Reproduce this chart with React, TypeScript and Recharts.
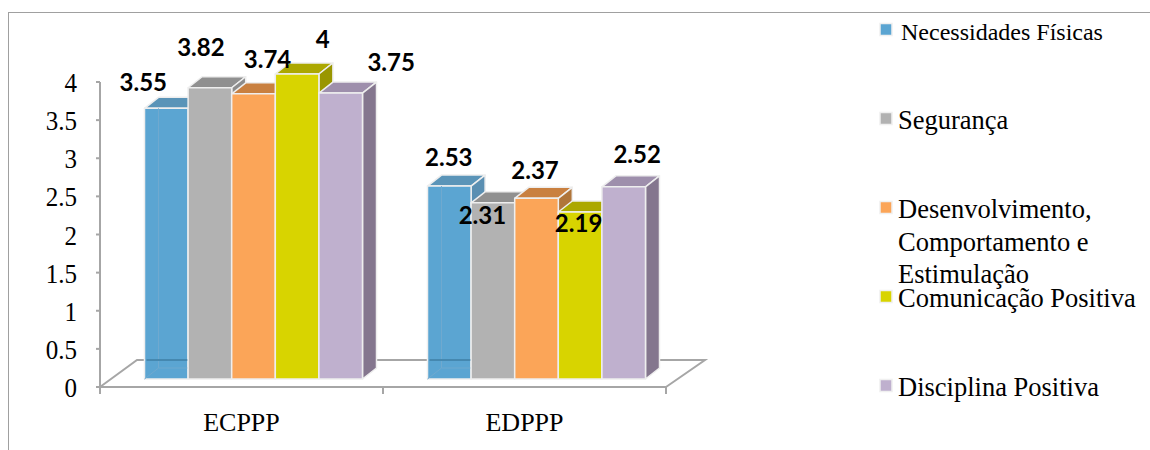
import { Bar, BarChart, LabelList, XAxis, YAxis } from "recharts";

const categories = ["ECPPP", "EDPPP"];
const necessidades = [3.55, 2.53];
const seguranca = [3.82, 2.31];
const desenvolvimento = [3.74, 2.37];
const comunicacao = [4, 2.19];
const disciplina = [3.75, 2.52];
const yTicks = [0, 0.5, 1, 1.5, 2, 2.5, 3, 3.5, 4];

const legendLines = [
  ["Necessidades Físicas"],
  ["Segurança"],
  ["Desenvolvimento,", "Comportamento e", "Estimulação"],
  ["Comunicação Positiva"],
  ["Disciplina Positiva"],
];

const SERIF = "'Liberation Serif', serif";
const AXIS_GREY = "#a6a6a6";

// fake 3d: bars are pushed off the axis onto the floor
const SHIFT_X = 11.5;
const SHIFT_Y = -8;
const DEPTH_X = 14;
const DEPTH_Y = -11;

const PLOT = { left: 100, right: 666, top: 82, bottom: 387 };

type SeriesStyle = {
  key: string;
  values: number[];
  front: string;
  top: string;
  side: string;
  labelOffsets: [number, number][];
};

const seriesList: SeriesStyle[] = [
  {
    key: "necessidades",
    values: necessidades,
    front: "#5ba5d2",
    top: "#5a94b8",
    side: "#5a8fb2",
    labelOffsets: [[-23, -26], [-0.5, -28]],
  },
  {
    key: "seguranca",
    values: seguranca,
    front: "#b2b2b2",
    top: "#909090",
    side: "#8c8c8c",
    labelOffsets: [[-9, -40], [-10.5, 13]],
  },
  {
    key: "desenvolvimento",
    values: desenvolvimento,
    front: "#fba558",
    top: "#c98040",
    side: "#b0753a",
    labelOffsets: [[14, -34], [-1.5, -28]],
  },
  {
    key: "comunicacao",
    values: comunicacao,
    front: "#d8d400",
    top: "#aca800",
    side: "#999600",
    labelOffsets: [[25.5, -34], [-1.5, 12]],
  },
  {
    key: "disciplina",
    values: disciplina,
    front: "#bfb0ce",
    top: "#9e8fac",
    side: "#84768e",
    labelOffsets: [[50.5, -30], [13.5, -32]],
  },
];

const chartData = categories.map((name, i) => {
  const row: Record<string, string | number> = { name };
  seriesList.forEach((s) => {
    row[s.key] = s.values[i];
  });
  return row;
});

function Column3D(props: any, style: SeriesStyle) {
  const x = props.x + SHIFT_X;
  const y = props.y + SHIFT_Y;
  const w = props.width;
  const h = props.height;
  const edge = { stroke: "#eeeeee", strokeWidth: 1.5, strokeLinejoin: "round" as const };
  const seeThrough = style.key === "necessidades";

  return (
    <g>
      <polygon
        points={`${x},${y} ${x + DEPTH_X},${y + DEPTH_Y} ${x + w + DEPTH_X},${y + DEPTH_Y} ${x + w},${y}`}
        fill={style.top}
        {...edge}
      />
      <polygon
        points={`${x + w},${y} ${x + w + DEPTH_X},${y + DEPTH_Y} ${x + w + DEPTH_X},${y + h + DEPTH_Y} ${x + w},${y + h}`}
        fill={style.side}
        {...edge}
      />
      <rect x={x} y={y} width={w} height={h} fill={style.front} {...edge} />
      {seeThrough && (
        <g fill="none">
          <path
            d={`M${x + DEPTH_X},${y} V${y + h + DEPTH_Y} H${x + w} M${x},${y + h} L${x + DEPTH_X},${y + h + DEPTH_Y}`}
            stroke="#6fa9cf"
            strokeWidth={1}
          />
          <line
            x1={x + 2}
            x2={x + w}
            y1={y + h - 19}
            y2={y + h - 19}
            stroke="#4588b0"
            strokeWidth={2}
          />
        </g>
      )}
    </g>
  );
}

function ValueLabel(props: any, style: SeriesStyle) {
  const { x, y, width, value, index } = props;
  const [dx, dy] = style.labelOffsets[index];
  return (
    <text
      x={x + SHIFT_X + width / 2 + dx}
      y={y + SHIFT_Y + dy}
      dy="0.35em"
      textAnchor="middle"
      fontFamily="Lato, sans-serif"
      fontWeight={700}
      fontSize={24}
      fill="#000"
    >
      {value}
    </text>
  );
}

function CategoryTick(props: any) {
  const { x, payload, index } = props;
  const band = (PLOT.right - PLOT.left) / categories.length;
  const edges = index === categories.length - 1 ? [x - band / 2, x + band / 2] : [x - band / 2];
  return (
    <g>
      {edges.map((ex) => (
        <line key={ex} x1={ex} x2={ex} y1={PLOT.bottom} y2={PLOT.bottom + 7} stroke={AXIS_GREY} strokeWidth={2} />
      ))}
      <text x={x} y={PLOT.bottom + 44} textAnchor="middle" fontFamily={SERIF} fontSize={26} fill="#000">
        {payload.value}
      </text>
    </g>
  );
}

function ValueTick(props: any) {
  const { y, payload } = props;
  // the source picture is a little stretched, so the digits are narrow and tall
  return (
    <text
      transform={`translate(77,${y + 10}) scale(0.91,1)`}
      textAnchor="end"
      fontFamily={SERIF}
      fontSize={27.5}
      fill="#000"
    >
      {payload.value}
    </text>
  );
}

function SideLegend() {
  const rowGap = 89;
  return (
    <svg width={275} height={420} style={{ position: "absolute", left: 875, top: 0 }}>
      {legendLines.map((lines, i) => (
        <g key={lines[0]}>
          <rect
            x={5}
            y={23.5 + i * rowGap}
            width={12}
            height={12}
            fill={seriesList[i].front}
            stroke="#f0f0f0"
            strokeWidth={1.5}
          />
          {lines.map((line, j) => (
            <text
              key={line}
              x={i === 0 ? 26 : 23}
              y={40 + i * rowGap + j * 32.5}
              fontFamily={SERIF}
              fontSize={i === 0 ? 24 : 26.5}
              fill="#000"
            >
              {line}
            </text>
          ))}
        </g>
      ))}
    </svg>
  );
}

export default function App() {
  return (
    <div
      style={{
        position: "absolute",
        left: 0,
        top: 0,
        width: 1150,
        height: 450,
        overflow: "hidden",
        background: "#fff",
      }}
    >
      <div
        style={{
          position: "absolute",
          left: 8,
          top: 12,
          right: 0,
          bottom: 0,
          borderLeft: "1.5px solid #a0a0a0",
          borderTop: "1.5px solid #a0a0a0",
        }}
      />
      {/* floor of the 3d plot, sits behind the chart */}
      <svg width={1150} height={450} style={{ position: "absolute", left: 0, top: 0 }}>
        <polyline
          points={`${PLOT.left},${PLOT.bottom} ${PLOT.left + 37},360 ${PLOT.right + 39},360 ${PLOT.right},${PLOT.bottom}`}
          fill="none"
          stroke={AXIS_GREY}
          strokeWidth={2}
        />
      </svg>
      <div style={{ position: "absolute", left: 0, top: 0 }}>
        <BarChart
          width={1150}
          height={450}
          data={chartData}
          barSize={43.6}
          barGap={0}
          margin={{ top: PLOT.top, left: 30, right: 1150 - PLOT.right, bottom: 18 }}
        >
          <XAxis
            dataKey="name"
            height={45}
            axisLine={{ stroke: AXIS_GREY, strokeWidth: 2 }}
            tickLine={false}
            tick={CategoryTick}
            interval={0}
          />
          {/* second axis keeps the label bars out of the column grouping */}
          <XAxis xAxisId="labels" dataKey="name" hide />
          <YAxis
            width={70}
            domain={[0, 4]}
            ticks={yTicks}
            interval={0}
            axisLine={{ stroke: AXIS_GREY, strokeWidth: 2 }}
            tickLine={{ stroke: AXIS_GREY, strokeWidth: 2 }}
            tickSize={4}
            tick={ValueTick}
          />
          {seriesList.map((s) => (
            <Bar
              key={s.key}
              dataKey={s.key}
              isAnimationActive={false}
              shape={(p: any) => Column3D(p, s)}
            />
          ))}
          {seriesList.map((s) => (
            <Bar
              key={`${s.key}-label`}
              xAxisId="labels"
              dataKey={s.key}
              fill="none"
              isAnimationActive={false}
            >
              <LabelList dataKey={s.key} content={(p: any) => ValueLabel(p, s)} />
            </Bar>
          ))}
        </BarChart>
      </div>
      <SideLegend />
    </div>
  );
}
